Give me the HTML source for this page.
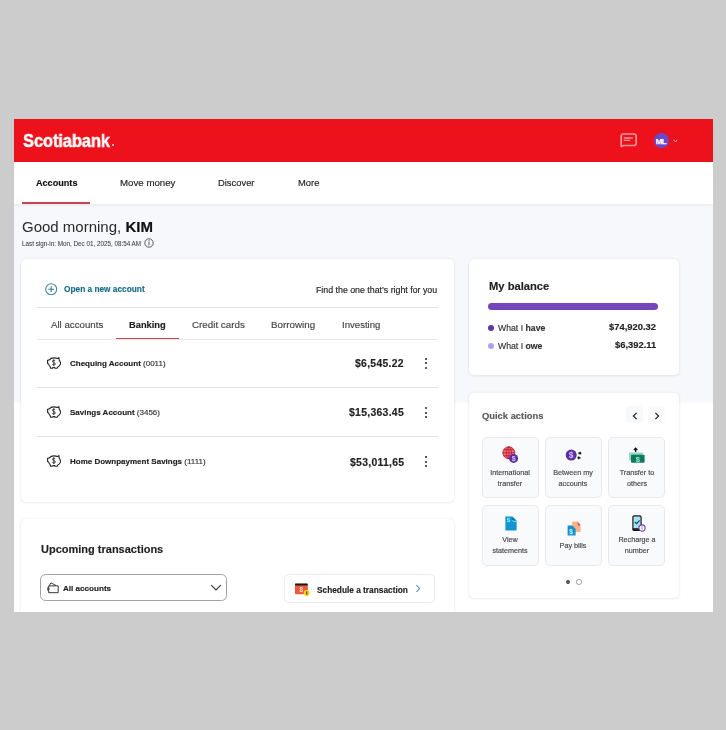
<!DOCTYPE html>
<html><head><meta charset="utf-8">
<style>
*{box-sizing:border-box;margin:0;padding:0}
html,body{width:726px;height:730px;overflow:hidden;background:#cccccc;font-family:"Liberation Sans",sans-serif;color:#222}
#scr{position:absolute;left:14px;top:119px;width:699px;height:493px;overflow:hidden;background:#fff}
.a{position:absolute;white-space:nowrap;will-change:transform;-webkit-text-stroke:0.15px currentColor}
</style></head><body>
<div id="scr">
<div style="position:absolute;left:0.00px;top:85.00px;width:699.00px;height:199.00px;background:linear-gradient(#f7f8fb 0,#f7f8fb 197px,#fcfcfd 199px)"></div>
<div style="position:absolute;left:0.00px;top:0.00px;width:699.00px;height:43.00px;background:#ec111a"></div>
<div style="position:absolute;left:0.00px;top:43.00px;width:699.00px;height:42.00px;background:#fff;box-shadow:0 1px 3px rgba(20,30,60,.08)"></div>
<div class="a" style="top:12.60px;font-size:18px;line-height:1;font-weight:700;color:#fff;letter-spacing:-0.1px;left:8.80px;transform:scaleX(0.915);transform-origin:0 0;-webkit-text-stroke:0.45px #fff">Scotiabank</div>
<div style="position:absolute;left:97.60px;top:24.90px;width:2.60px;height:2.60px;background:#ffe0e2;border-radius:50%"></div>
<svg class="a" style="left:604.60px;top:13.60px;" width="19" height="15" viewBox="0 0 19 15"><path d="M3.5,1 H15 A2.2,2.2 0 0 1 17.2,3.2 V10.3 A2.2,2.2 0 0 1 15,12.5 H4.6 L2.2,13.4 V3.2 A2.2,2.2 0 0 1 3.5,1 Z" fill="none" stroke="#ff9499" stroke-width="1.7" stroke-linejoin="round"/><path d="M4.8,5 H13.8 M4.8,7.4 H11.1" stroke="#ff9499" stroke-width="1.4"/></svg>
<div style="position:absolute;left:640.20px;top:14.40px;width:14.50px;height:14.50px;background:#6e48c6;border-radius:50%"></div>
<div class="a" style="top:18.70px;font-size:7.9px;line-height:1;font-weight:700;color:#fff;letter-spacing:-0.45px;left:547.30px;width:200px;text-align:center;-webkit-text-stroke:0.25px #fff">ML</div>
<svg class="a" style="left:659.30px;top:19.60px;" width="5" height="4" viewBox="0 0 5 4"><path d="M0.7,0.8 L2.5,2.8 L4.3,0.8" fill="none" stroke="#ffc8cb" stroke-width="1"/></svg>
<div class="a" style="top:59.90px;font-size:9.1px;line-height:1;font-weight:700;color:#111;left:21.80px;">Accounts</div>
<div class="a" style="top:58.90px;font-size:9.7px;line-height:1;color:#222;left:105.80px;">Move money</div>
<div class="a" style="top:58.90px;font-size:9.4px;line-height:1;color:#222;left:204.00px;">Discover</div>
<div class="a" style="top:58.90px;font-size:9.4px;line-height:1;color:#222;left:283.70px;">More</div>
<div style="position:absolute;left:8.00px;top:83.00px;width:68.40px;height:2.00px;background:#c9414b"></div>
<div class="a" style="top:99.60px;font-size:15px;line-height:1;color:#2a2a2a;left:8.40px;-webkit-text-stroke:0">Good morning, <b style="color:#111;-webkit-text-stroke:0.2px #111">KIM</b></div>
<div class="a" style="top:121.60px;font-size:6.3px;line-height:1;color:#3a3a3a;left:8.40px;-webkit-text-stroke:0.05px #3a3a3a">Last sign-in: Mon, Dec 01, 2025, 08:54 AM</div>
<svg class="a" style="left:130.00px;top:119.40px;" width="10" height="10" viewBox="0 0 10 10"><circle cx="5" cy="5" r="4.2" fill="none" stroke="#333" stroke-width="0.8"/><path d="M5 4.3v3" stroke="#333" stroke-width="0.9"/><circle cx="5" cy="2.9" r="0.55" fill="#333"/></svg>
<div style="position:absolute;left:6.80px;top:140.40px;width:433.20px;height:242.40px;background:#fff;border-radius:5px;box-shadow:0 0 3px rgba(20,30,60,.09),0 1px 3px rgba(20,30,60,.05)"></div>
<div style="position:absolute;left:454.60px;top:140.40px;width:210.00px;height:115.70px;background:#fff;border-radius:5px;box-shadow:0 0 3px rgba(20,30,60,.09),0 1px 3px rgba(20,30,60,.05)"></div>
<div style="position:absolute;left:454.60px;top:273.90px;width:210.00px;height:205.10px;background:#fff;border-radius:5px;box-shadow:0 0 3px rgba(20,30,60,.09),0 1px 3px rgba(20,30,60,.05)"></div>
<div style="position:absolute;left:6.80px;top:400.30px;width:433.20px;height:120.70px;background:#fff;border-radius:5px;box-shadow:0 0 3px rgba(20,30,60,.09),0 1px 3px rgba(20,30,60,.05)"></div>
<svg class="a" style="left:30.50px;top:164.30px;" width="12.4" height="12.4" viewBox="0 0 12 12"><circle cx="6" cy="6" r="5.3" fill="none" stroke="#3a8598" stroke-width="1"/><path d="M6 3.2v5.6M3.2 6h5.6" stroke="#2f7d92" stroke-width="1"/></svg>
<div class="a" style="top:166.30px;font-size:8.3px;line-height:1;font-weight:700;color:#186c88;left:49.80px;">Open a new account</div>
<div class="a" style="top:166.50px;font-size:8.8px;line-height:1;color:#222;left:302.30px;">Find the one that&#8217;s right for you</div>
<div style="position:absolute;left:23.30px;top:188.20px;width:400.70px;height:1.00px;background:#dfe0e3"></div>
<div class="a" style="top:201.20px;font-size:9.7px;line-height:1;color:#444;left:36.70px;">All accounts</div>
<div class="a" style="top:202.20px;font-size:9.3px;line-height:1;font-weight:700;color:#222;left:115.20px;">Banking</div>
<div class="a" style="top:201.20px;font-size:9.8px;line-height:1;color:#444;left:178.10px;">Credit cards</div>
<div class="a" style="top:201.20px;font-size:9.8px;line-height:1;color:#444;left:257.10px;">Borrowing</div>
<div class="a" style="top:201.20px;font-size:9.6px;line-height:1;color:#444;left:327.80px;">Investing</div>
<div style="position:absolute;left:23.30px;top:219.50px;width:400.70px;height:1.00px;background:#e4e6e9"></div>
<div style="position:absolute;left:102.10px;top:218.60px;width:62.90px;height:1.70px;background:#d3454e"></div>
<svg class="a" style="left:33.00px;top:238.00px;" width="14" height="12" viewBox="0 0 14 12"><path d="M0.6,3.3 L2.3,2.9 C3.4,1.5 5,0.9 6.8,0.9 C8.3,0.9 9.6,1.1 10.7,1.5 L11.9,0.6 L12.2,3.2 C12.8,3.9 13.2,4.8 13.4,5.6 L13.9,6.1 L13.3,7.4 C12.8,8.7 11.8,9.6 10.6,10.2 L10.1,11.3 L8.1,11.3 L7.8,10.6 L5.9,10.6 L5.4,11.3 L3.6,11.3 L3.2,9.6 C2.4,8.9 1.9,8 1.6,7.1 L0.6,6.6 Z" fill="none" stroke="#222" stroke-width="1.1" stroke-linejoin="round"/><path d="M8.2,4 C7.9,3.4 7.4,3.2 6.8,3.2 C6,3.2 5.4,3.6 5.4,4.3 C5.4,5.8 8.3,5.2 8.3,6.9 C8.3,7.6 7.7,8.1 6.8,8.1 C6,8.1 5.4,7.8 5.2,7.2 M6.8,2.3 V8.9" fill="none" stroke="#333" stroke-width="0.95"/></svg>
<div class="a" style="top:241.00px;font-size:8px;line-height:1;color:#222;left:55.90px;"><b>Chequing Account</b> <span style="color:#333">(0011)</span></div>
<div class="a" style="top:240.20px;font-size:10.4px;line-height:1;font-weight:700;color:#222;letter-spacing:0.3px;right:308.70px;">$6,545.22</div>
<div style="position:absolute;left:410.80px;top:238.75px;width:2.10px;height:2.10px;background:#222;border-radius:50%"></div>
<div style="position:absolute;left:410.80px;top:243.35px;width:2.10px;height:2.10px;background:#222;border-radius:50%"></div>
<div style="position:absolute;left:410.80px;top:247.95px;width:2.10px;height:2.10px;background:#222;border-radius:50%"></div>
<div style="position:absolute;left:23.30px;top:267.90px;width:400.70px;height:1.00px;background:#dfe0e3"></div>
<svg class="a" style="left:33.00px;top:287.20px;" width="14" height="12" viewBox="0 0 14 12"><path d="M0.6,3.3 L2.3,2.9 C3.4,1.5 5,0.9 6.8,0.9 C8.3,0.9 9.6,1.1 10.7,1.5 L11.9,0.6 L12.2,3.2 C12.8,3.9 13.2,4.8 13.4,5.6 L13.9,6.1 L13.3,7.4 C12.8,8.7 11.8,9.6 10.6,10.2 L10.1,11.3 L8.1,11.3 L7.8,10.6 L5.9,10.6 L5.4,11.3 L3.6,11.3 L3.2,9.6 C2.4,8.9 1.9,8 1.6,7.1 L0.6,6.6 Z" fill="none" stroke="#222" stroke-width="1.1" stroke-linejoin="round"/><path d="M8.2,4 C7.9,3.4 7.4,3.2 6.8,3.2 C6,3.2 5.4,3.6 5.4,4.3 C5.4,5.8 8.3,5.2 8.3,6.9 C8.3,7.6 7.7,8.1 6.8,8.1 C6,8.1 5.4,7.8 5.2,7.2 M6.8,2.3 V8.9" fill="none" stroke="#333" stroke-width="0.95"/></svg>
<div class="a" style="top:290.20px;font-size:8px;line-height:1;color:#222;left:55.90px;"><b>Savings Account</b> <span style="color:#333">(3456)</span></div>
<div class="a" style="top:289.40px;font-size:10.4px;line-height:1;font-weight:700;color:#222;letter-spacing:0.3px;right:308.70px;">$15,363.45</div>
<div style="position:absolute;left:410.80px;top:287.95px;width:2.10px;height:2.10px;background:#222;border-radius:50%"></div>
<div style="position:absolute;left:410.80px;top:292.55px;width:2.10px;height:2.10px;background:#222;border-radius:50%"></div>
<div style="position:absolute;left:410.80px;top:297.15px;width:2.10px;height:2.10px;background:#222;border-radius:50%"></div>
<div style="position:absolute;left:23.30px;top:317.10px;width:400.70px;height:1.00px;background:#dfe0e3"></div>
<svg class="a" style="left:33.00px;top:336.40px;" width="14" height="12" viewBox="0 0 14 12"><path d="M0.6,3.3 L2.3,2.9 C3.4,1.5 5,0.9 6.8,0.9 C8.3,0.9 9.6,1.1 10.7,1.5 L11.9,0.6 L12.2,3.2 C12.8,3.9 13.2,4.8 13.4,5.6 L13.9,6.1 L13.3,7.4 C12.8,8.7 11.8,9.6 10.6,10.2 L10.1,11.3 L8.1,11.3 L7.8,10.6 L5.9,10.6 L5.4,11.3 L3.6,11.3 L3.2,9.6 C2.4,8.9 1.9,8 1.6,7.1 L0.6,6.6 Z" fill="none" stroke="#222" stroke-width="1.1" stroke-linejoin="round"/><path d="M8.2,4 C7.9,3.4 7.4,3.2 6.8,3.2 C6,3.2 5.4,3.6 5.4,4.3 C5.4,5.8 8.3,5.2 8.3,6.9 C8.3,7.6 7.7,8.1 6.8,8.1 C6,8.1 5.4,7.8 5.2,7.2 M6.8,2.3 V8.9" fill="none" stroke="#333" stroke-width="0.95"/></svg>
<div class="a" style="top:339.40px;font-size:8px;line-height:1;color:#222;left:55.90px;"><b>Home Downpayment Savings</b> <span style="color:#333">(1111)</span></div>
<div class="a" style="top:338.60px;font-size:10.4px;line-height:1;font-weight:700;color:#222;letter-spacing:0.3px;right:308.70px;">$53,011,65</div>
<div style="position:absolute;left:410.80px;top:337.15px;width:2.10px;height:2.10px;background:#222;border-radius:50%"></div>
<div style="position:absolute;left:410.80px;top:341.75px;width:2.10px;height:2.10px;background:#222;border-radius:50%"></div>
<div style="position:absolute;left:410.80px;top:346.35px;width:2.10px;height:2.10px;background:#222;border-radius:50%"></div>
<div class="a" style="top:161.90px;font-size:11.2px;line-height:1;font-weight:700;color:#222;left:475.20px;">My balance</div>
<div style="position:absolute;left:474.30px;top:184.00px;width:170.10px;height:6.70px;background:#7446b8;border-radius:4px"></div>
<div style="position:absolute;left:474.40px;top:205.60px;width:6.00px;height:6.00px;background:#5f35a6;border-radius:50%"></div>
<div style="position:absolute;left:474.40px;top:223.60px;width:6.00px;height:6.00px;background:#aea4ec;border-radius:50%"></div>
<div class="a" style="top:204.90px;font-size:8.7px;line-height:1;color:#333;left:483.60px;">What I <b>have</b></div>
<div class="a" style="top:222.80px;font-size:8.7px;line-height:1;color:#333;left:483.60px;">What I <b>owe</b></div>
<div class="a" style="top:203.40px;font-size:9.4px;line-height:1;font-weight:700;color:#222;right:56.70px;">$74,920.32</div>
<div class="a" style="top:221.30px;font-size:9.4px;line-height:1;font-weight:700;color:#222;right:56.70px;">$6,392.11</div>
<div class="a" style="top:291.60px;font-size:9.4px;line-height:1;font-weight:700;color:#5a5a5a;left:468.00px;">Quick actions</div>
<div style="position:absolute;left:612.20px;top:287.20px;width:16.50px;height:17.00px;background:#f8f9fb;border-radius:4px"></div>
<div style="position:absolute;left:634.20px;top:287.20px;width:16.50px;height:17.00px;background:#fbfbfc;border-radius:4px"></div>
<svg class="a" style="left:618.00px;top:292.50px;" width="6" height="8" viewBox="0 0 6 8"><path d="M4.6,0.8 L1.4,4 L4.6,7.2" fill="none" stroke="#222" stroke-width="1.2"/></svg>
<svg class="a" style="left:639.60px;top:292.50px;" width="6" height="8" viewBox="0 0 6 8"><path d="M1.4,0.8 L4.6,4 L1.4,7.2" fill="none" stroke="#222" stroke-width="1.2"/></svg>
<div style="position:absolute;left:467.50px;top:318.30px;width:57.70px;height:61.10px;background:#f9fafb;border-radius:5px;box-shadow:inset 0 0 0 1px #e7e9ed"></div>
<div class="a" style="top:349.60px;font-size:7.2px;line-height:1;color:#444;left:396.35px;width:200px;text-align:center;">International</div>
<div class="a" style="top:360.90px;font-size:7.2px;line-height:1;color:#444;left:396.35px;width:200px;text-align:center;">transfer</div>
<div style="position:absolute;left:530.90px;top:318.30px;width:57.10px;height:61.10px;background:#f9fafb;border-radius:5px;box-shadow:inset 0 0 0 1px #e7e9ed"></div>
<div class="a" style="top:349.60px;font-size:7.2px;line-height:1;color:#444;left:459.45px;width:200px;text-align:center;">Between my</div>
<div class="a" style="top:360.90px;font-size:7.2px;line-height:1;color:#444;left:459.45px;width:200px;text-align:center;">accounts</div>
<div style="position:absolute;left:594.20px;top:318.30px;width:56.80px;height:61.10px;background:#f9fafb;border-radius:5px;box-shadow:inset 0 0 0 1px #e7e9ed"></div>
<div class="a" style="top:349.60px;font-size:7.2px;line-height:1;color:#444;left:522.60px;width:200px;text-align:center;">Transfer to</div>
<div class="a" style="top:360.90px;font-size:7.2px;line-height:1;color:#444;left:522.60px;width:200px;text-align:center;">others</div>
<div style="position:absolute;left:467.50px;top:385.60px;width:57.70px;height:61.70px;background:#f9fafb;border-radius:5px;box-shadow:inset 0 0 0 1px #e7e9ed"></div>
<div class="a" style="top:416.90px;font-size:7.2px;line-height:1;color:#444;left:396.35px;width:200px;text-align:center;">View</div>
<div class="a" style="top:428.20px;font-size:7.2px;line-height:1;color:#444;left:396.35px;width:200px;text-align:center;">statements</div>
<div style="position:absolute;left:530.90px;top:385.60px;width:57.10px;height:61.70px;background:#f9fafb;border-radius:5px;box-shadow:inset 0 0 0 1px #e7e9ed"></div>
<div class="a" style="top:422.60px;font-size:7.2px;line-height:1;color:#444;left:459.45px;width:200px;text-align:center;">Pay bills</div>
<div style="position:absolute;left:594.20px;top:385.60px;width:56.80px;height:61.70px;background:#f9fafb;border-radius:5px;box-shadow:inset 0 0 0 1px #e7e9ed"></div>
<div class="a" style="top:416.90px;font-size:7.2px;line-height:1;color:#444;left:522.60px;width:200px;text-align:center;">Recharge a</div>
<div class="a" style="top:428.20px;font-size:7.2px;line-height:1;color:#444;left:522.60px;width:200px;text-align:center;">number</div>
<svg class="a" style="left:488.00px;top:327.00px;" width="18" height="18" viewBox="0 0 18 18"><circle cx="6.8" cy="6.8" r="6" fill="#f4727a"/><g fill="none" stroke="#b3172a" stroke-width="0.8"><circle cx="6.8" cy="6.8" r="6"/><ellipse cx="6.8" cy="6.8" rx="2.6" ry="6"/><path d="M0.8,6.8 H12.8 M1.8,3.8 H11.8 M1.8,9.8 H11.8 M6.8,0.8 V12.8"/></g><circle cx="11.6" cy="12.4" r="4.5" fill="#5b2ea3"/><text x="11.6" y="14.9" font-size="7" font-weight="700" text-anchor="middle" fill="#d5c2ff" font-family="Liberation Sans">$</text></svg>
<svg class="a" style="left:551.00px;top:330.00px;" width="20" height="13" viewBox="0 0 20 13"><circle cx="6.2" cy="6.1" r="5.5" fill="#5b2ea3"/><text x="6.2" y="9.1" font-size="8.5" font-weight="700" text-anchor="middle" fill="#d8c6ff" font-family="Liberation Sans">$</text><path d="M13.2,4.2 H15.6 M14.6,3 L15.8,4.2 L14.6,5.4 M15.6,8.8 H13.2 M14.2,7.6 L13,8.8 L14.2,10" stroke="#111" stroke-width="1.2" fill="none"/></svg>
<svg class="a" style="left:614.00px;top:328.00px;" width="18" height="17" viewBox="0 0 18 17"><rect x="1.2" y="5.4" width="13.6" height="8" rx="0.8" fill="#8fd6c4"/><rect x="3" y="7.7" width="13.6" height="8" rx="0.8" fill="#0f7a5c"/><text x="9.8" y="14.6" font-size="7.5" font-weight="700" text-anchor="middle" fill="#9ff0cf" font-family="Liberation Sans">$</text><path d="M7.6,5 V1.6 M5.9,3 L7.6,1.2 L9.3,3" stroke="#111" stroke-width="1.3" fill="none"/></svg>
<svg class="a" style="left:490.50px;top:396.60px;" width="12" height="15" viewBox="0 0 12 15"><path d="M0.4,0.5 H7.2 L11.6,4.8 V14.4 H0.4 Z" fill="#1495d2"/><path d="M7.2,0.5 V4.8 H11.6" fill="#0b78ad"/><path d="M7,4.3 C7.6,5.4 9.5,5.6 11.2,5.2" stroke="#7ff0ff" stroke-width="1" fill="none"/><text x="3.4" y="6.4" font-size="6.2" font-weight="700" text-anchor="middle" fill="#7cf2ff" font-family="Liberation Sans">$</text></svg>
<svg class="a" style="left:552.50px;top:401.50px;" width="14.5" height="15.5" viewBox="0 0 14.5 15.5"><path d="M5.2,0.6 H10.4 L13.6,4 V11 H5.2 Z" fill="#f6b48d"/><path d="M10.4,0.6 L13.6,4 L11,5 Z" fill="#d8583f"/><path d="M0.6,4.6 H5.2 L8.6,7.8 V14.6 H0.6 Z" fill="#1590cc"/><text x="4.2" y="13.2" font-size="6.6" font-weight="700" text-anchor="middle" fill="#bff6ff" font-family="Liberation Sans">$</text></svg>
<svg class="a" style="left:617.50px;top:395.80px;" width="13.5" height="17" viewBox="0 0 13.5 17"><rect x="0.9" y="0.9" width="8.2" height="14.6" rx="1.3" fill="#a9e2f2" stroke="#1b1b1b" stroke-width="1.2"/><rect x="0.9" y="13.2" width="8.2" height="2.3" fill="#1b1b1b"/><path d="M2.8,7 L4.6,8.8 L7.6,5.4" stroke="#1d5a72" stroke-width="1.4" fill="none"/><circle cx="10" cy="13" r="3.1" fill="#fff" stroke="#6a3fb0" stroke-width="1.1"/><path d="M10,11.3 V14.6" stroke="#b89af0" stroke-width="1.4"/></svg>
<div style="position:absolute;left:551.70px;top:460.90px;width:4.40px;height:4.40px;background:#505050;border-radius:50%"></div>
<div style="position:absolute;left:562.30px;top:460.40px;width:5.40px;height:5.40px;border:1.2px solid #999;border-radius:50%"></div>
<div class="a" style="top:424.60px;font-size:11px;line-height:1;font-weight:700;color:#222;left:26.50px;">Upcoming transactions</div>
<div style="position:absolute;left:26.40px;top:454.90px;width:186.40px;height:27.10px;border:1px solid #9fa1a5;border-radius:5.5px;background:#fff"></div>
<svg class="a" style="left:32.60px;top:463.00px;" width="13" height="12" viewBox="0 0 13 12"><path d="M1.7,3.9 H11.2 V10.7 H1.7 Z M2.2,3.7 L4,0.9 L9,3.5 M1.7,5.8 H1 A1.2,1.2 0 0 0 1,8.2 H1.7" fill="none" stroke="#2a2a2a" stroke-width="0.95" stroke-linejoin="round"/><circle cx="2.2" cy="7" r="0.5" fill="#2a2a2a"/></svg>
<div class="a" style="top:465.70px;font-size:8.1px;line-height:1;font-weight:700;color:#222;left:49.20px;">All accounts</div>
<svg class="a" style="left:195.80px;top:464.60px;" width="12" height="8" viewBox="0 0 12 8"><path d="M1.2,1.2 L6,5.9 L10.8,1.2" fill="none" stroke="#333" stroke-width="1.1"/></svg>
<div style="position:absolute;left:269.60px;top:455.40px;width:151.00px;height:28.80px;background:#fff;border-radius:5px;box-shadow:inset 0 0 0 1px #e9ebee"></div>
<svg class="a" style="left:279.50px;top:463.00px;" width="16" height="14" viewBox="0 0 16 14"><rect x="1" y="1.8" width="12.8" height="10.4" rx="0.8" fill="#ea5b3b"/><rect x="1" y="1.6" width="12.8" height="1.8" rx="0.6" fill="#1e1a1a"/><text x="7.2" y="10.2" font-size="6.5" font-weight="700" text-anchor="middle" fill="#ffd9cc" font-family="Liberation Sans">8</text><circle cx="12.7" cy="11" r="3" fill="#f2d21c"/><path d="M12.7,9.4 V12.6" stroke="#3a3000" stroke-width="1"/></svg>
<div class="a" style="top:467.00px;font-size:8.3px;line-height:1;font-weight:700;color:#222;left:302.90px;">Schedule a transaction</div>
<svg class="a" style="left:400.50px;top:465.00px;" width="6" height="9" viewBox="0 0 6 9"><path d="M1.4,1 L4.6,4.5 L1.4,8" fill="none" stroke="#3b8bb8" stroke-width="1.05"/></svg>
</div>
</body></html>
